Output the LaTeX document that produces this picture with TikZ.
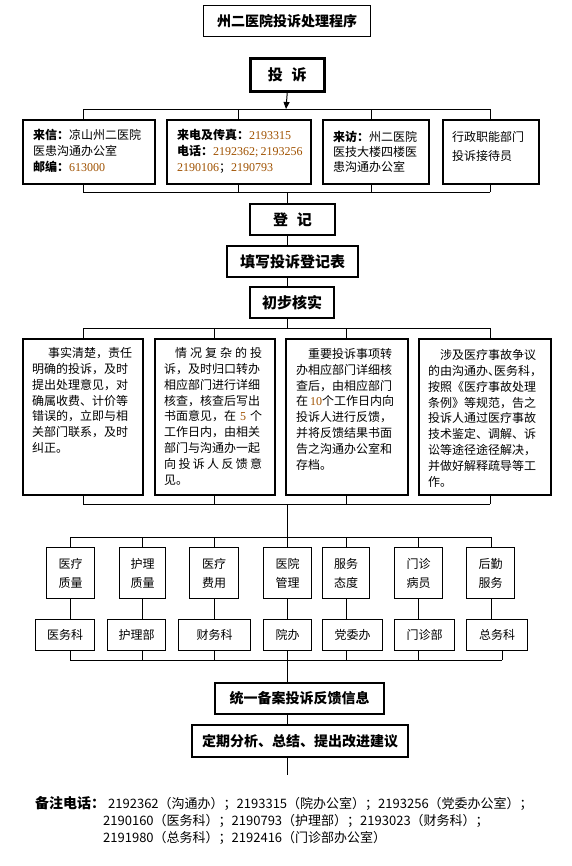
\documentclass[tikz,border=0pt]{standalone}
\usepackage{fontspec}
\setmainfont{Noto Sans CJK SC}
\newfontfamily\tnr{Liberation Serif}
\usetikzlibrary{arrows.meta}
\definecolor{numc}{RGB}{160,82,0}
\newcommand\myfs[2]{\fontsize{#1bp}{#2bp}\selectfont}
\newcommand\mynum[1]{{\tnr\color{numc}#1}}
\newcommand\spr[2]{\makebox[#1bp][s]{#2}}
\begin{document}
\begin{tikzpicture}[x=1bp,y=-1bp,
  bx/.style={draw=black, inner sep=0pt, anchor=north west},
  thinb/.style={line width=1bp},
  midb/.style={line width=1.5bp},
  flowb/.style={line width=2bp, font=\bfseries\myfs{15}{15}},
  txt/.style={anchor=north west, inner sep=0pt, align=left, font=\myfs{12}{16}},
  rtxt/.style={anchor=north west, inner sep=0pt, align=left, font=\myfs{12}{15.9}},
  conn/.style={line width=1bp, draw=black},
  note/.style={anchor=base west, inner sep=0pt, font=\myfs{13}{13}}
]
\fill[white] (0,0) rectangle (572,866);
\useasboundingbox (0,0) rectangle (572,866);

% title and first box
\node[bx, thinb, minimum width=167bp, minimum height=31bp, font=\bfseries\myfs{14}{14}] (title) at (203,5) {州二医院投诉处理程序};
\node[bx, line width=2.5bp, minimum width=74bp, minimum height=33bp, font=\bfseries\myfs{15}{15}] (tousu) at (249,57) {投\hspace{9bp}诉};

% row 1
\node[bx, midb, minimum width=132bp, minimum height=64bp] (r1a) at (22,119) {};
\node[bx, midb, minimum width=144bp, minimum height=64bp] (r1b) at (166,119) {};
\node[bx, midb, minimum width=106bp, minimum height=64bp] (r1c) at (322,119) {};
\node[bx, midb, minimum width=96bp, minimum height=64bp] (r1d) at (442,119) {};
\node[txt] (t1a) at (33,129) {\textbf{来信：}凉山州二医院\\医患沟通办公室\\\textbf{邮编：}\mynum{613000}};
\node[txt] (t1b) at (177,129) {\textbf{来电及传真：}\mynum{2193315}\\\textbf{电话：}\mynum{2192362;\,2193256}\\\mynum{2190106}；\mynum{2190793}};
\node[txt, font=\myfs{12}{15.2}] (t1c) at (333,130.5) {\textbf{来访：}州二医院\\医技大楼四楼医\\患沟通办公室};
\node[txt, font=\myfs{12}{19}] (t1d) at (452,131) {行政职能部门\\投诉接待员};

% flow boxes
\node[bx, flowb, minimum width=85bp, minimum height=31bp] (dengji) at (249,203) {登\hspace{9bp}记};
\node[bx, flowb, minimum width=131bp, minimum height=31bp] (tianxie) at (226,245) {填写投诉登记表};
\node[bx, flowb, minimum width=84bp, minimum height=31bp] (chubu) at (249,286) {初步核实};

% row 2
\node[bx, midb, minimum width=120bp, minimum height=156bp] (r2a) at (22,338) {};
\node[bx, midb, minimum width=120bp, minimum height=156bp] (r2b) at (154,338) {};
\node[bx, midb, minimum width=122bp, minimum height=156bp] (r2c) at (285,338) {};
\node[bx, midb, minimum width=132bp, minimum height=156bp] (r2d) at (418,338) {};
\node[rtxt] (t2a) at (32,347) {\hspace*{16bp}事实清楚，责任\\明确的投诉，及时\\提出处理意见，对\\确属收费、计价等\\错误的，立即与相\\关部门联系，及时\\纠正。};
\node[rtxt] (t2b) at (164,347) {\hspace*{11bp}\spr{87}{情\hfill 况\hfill 复\hfill 杂\hfill 的\hfill 投}\\诉，及时归口转办\\相应部门进行详细\\核查，核查后写出\\\spr{98}{书面意见，在\hfill\mynum{5}\hfill 个}\\工作日内，由相关\\部门与沟通办一起\\\spr{98}{向\hfill 投\hfill 诉\hfill 人\hfill 反\hfill 馈\hfill 意}\\见。};
\node[rtxt] (t2c) at (296,348) {\hspace*{12bp}重要投诉事项转\\办相应部门详细核\\查后，由相应部门\\在\,\mynum{10}个工作日内向\\投诉人进行反馈，\\并将反馈结果书面\\告之沟通办公室和\\存档。};
\node[rtxt] (t2d) at (428,349) {\hspace*{12bp}涉及医疗事故争议\\的由沟通办\makebox[6bp][l]{、}医务科，\\按照《医疗事故处理\\条例》等规范，告之\\投诉人通过医疗事故\\技术鉴定、调解、诉\\讼等途径途径解决，\\并做好解释疏导等工\\作。};

% categories and departments
\foreach \n/\xa/\w/\ta/\tb in {c1/46/48/医疗/质量, c2/119/46/护理/质量, c3/189/49/医疗/费用, c4/263/48/医院/管理, c5/322/47/服务/态度, c6/394/48/门诊/病员, c7/466/48/后勤/服务}
  \node[bx, thinb, minimum width=\w bp, minimum height=51bp, align=center, font=\myfs{12}{19}] (\n) at (\xa,547) {\ta\\\tb};
\foreach \n/\xa/\w/\ta in {d1/35/59/医务科, d2/107/58/护理部, d3/178/72/财务科, d4/263/48/院办, d5/322/60/党委办, d6/394/60/门诊部, d7/466/61/总务科}
  \node[bx, thinb, minimum width=\w bp, minimum height=31bp, font=\myfs{12}{12}] (\n) at (\xa,619) {\ta};

% final boxes
\node[bx, flowb, font=\bfseries\myfs{14}{14}, minimum width=169bp, minimum height=31bp] (tongyi) at (214,682) {统一备案投诉反馈信息};
\node[bx, flowb, font=\bfseries\myfs{14}{14}, minimum width=216bp, minimum height=32bp] (dingqi) at (191,724) {定期分析、总结、提出改进建议};
\coordinate (endp) at (287,775);

% connectors
\coordinate (tr) at (287,0);
\coordinate (j1) at (286,109);
\draw[conn, -{Triangle[width=6bp,length=7bp]}] (tousu.south) -- (j1);
\coordinate (b1l) at (83,109);  \coordinate (b1r) at (490,109);
\coordinate (b2l) at (83,192);  \coordinate (b2r) at (490,192);
\draw[conn] (b1l) -- (b1r);
\draw[conn] (b2l) -- (b2r);
\foreach \x/\n in {83/r1a,238/r1b,371/r1c,490/r1d}{
  \coordinate (tx) at (\x,0);
  \draw[conn] (tx |- b1l) -- (tx |- \n.north);
  \draw[conn] (tx |- \n.south) -- (tx |- b2l);
}
\draw[conn] (tr |- b2l) -- (tr |- dengji.north);
\draw[conn] (tr |- dengji.south) -- (tr |- tianxie.north);
\draw[conn] (tr |- tianxie.south) -- (tr |- chubu.north);
\coordinate (b3l) at (83,328);  \coordinate (b3r) at (490,328);
\coordinate (b4l) at (83,504);  \coordinate (b4r) at (490,504);
\draw[conn] (tr |- chubu.south) -- (tr |- b3l);
\draw[conn] (b3l) -- (b3r);
\draw[conn] (b4l) -- (b4r);
\foreach \x/\n in {83/r2a,214/r2b,346/r2c,490/r2d}{
  \coordinate (tx) at (\x,0);
  \draw[conn] (tx |- b3l) -- (tx |- \n.north);
  \draw[conn] (tx |- \n.south) -- (tx |- b4l);
}
\coordinate (b5l) at (70,537);  \coordinate (b5r) at (491,537);
\coordinate (b6l) at (70,660);  \coordinate (b6r) at (502,660);
\draw[conn] (tr |- b4l) -- (tr |- b5l);
\draw[conn] (b5l) -- (b5r);
\draw[conn] (b6l) -- (b6r);
\foreach \x/\c/\d/\e in {70/c1/d1/70, 142/c2/d2/142, 214/c3/d3/214, 287/c4/d4/287, 346/c5/d5/346, 418/c6/d6/418, 491/c7/d7/502}{
  \coordinate (tx) at (\x,0);
  \coordinate (te) at (\e,0);
  \draw[conn] (tx |- b5l) -- (tx |- \c.north);
  \draw[conn] (tx |- \c.south) -- (tx |- \d.north);
  \draw[conn] (te |- \d.south) -- (te |- b6l);
}
\draw[conn] (tr |- b6l) -- (tr |- tongyi.north);
\draw[conn] (tr |- tongyi.south) -- (tr |- dingqi.north);
\draw[conn] (tr |- dingqi.south) -- (endp);

% footer
\node[anchor=base west, inner sep=0pt, font=\bfseries\myfs{14}{14}] (nt) at (35,808) {备注电话：};
\node[note] (n1) at (108,808) {2192362（沟通办）；2193315（院办公室）；2193256（党委办公室）；};
\node[note] (n2) at (103,825) {2190160（医务科）；2190793（护理部）；2193023（财务科）；};
\node[note] (n3) at (103,842) {2191980（总务科）；2192416（门诊部办公室）};
\end{tikzpicture}
\end{document}
